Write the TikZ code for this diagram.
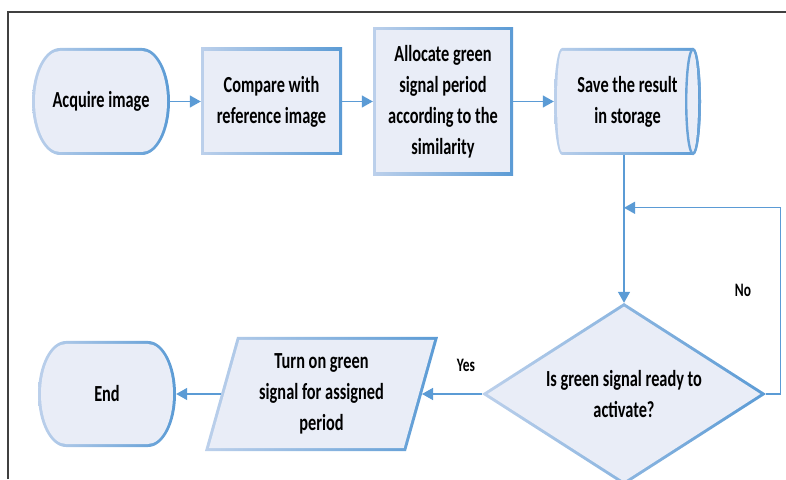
\documentclass[tikz,border=0pt]{standalone}
\usepackage{fontspec}
\setmainfont{Carlito}[FakeStretch=0.71]
\usetikzlibrary{arrows.meta,calc}
\definecolor{boxfill}{HTML}{E9EDF7}
\definecolor{edgelight}{HTML}{BCD0EB}
\definecolor{edgedark}{HTML}{5B9BD5}
\definecolor{linkblue}{HTML}{5B9BD5}
\definecolor{framegray}{HTML}{404040}

\begin{document}
\begin{tikzpicture}[x=1pt,y=1pt,
  band/.style={left color=edgelight,right color=edgedark},
  face/.style={fill=boxfill},
  txt/.style={rectangle,inner sep=0pt,align=center,
    font=\bfseries\fontsize{23}{31}\selectfont},
  holder/.style 2 args={minimum width=#1,minimum height=#2},
  tag/.style={inner sep=0pt,font=\bfseries\fontsize{19}{23}\selectfont},
  conn/.style={draw=linkblue,line width=1.4pt,
    -{Triangle[length=11pt,width=12pt]}},
  % rectangle with a shaded rim: half width, half height
  pics/rectbox/.style n args={2}{code={
    \path[band] ({-#1},{-#2}) rectangle (#1,#2);
    \path[face] ({-#1+3},{-#2+3}) rectangle ({#1-3},{#2-3});
  }},
  % rounded terminal / cylinder body: half width, half height, end radius
  pics/terminal/.style n args={3}{code={
    \path[band] ({-#1+#3},#2) -- ({#1-#3},#2)
      arc[start angle=90,end angle=-90,x radius=#3,y radius=#2]
      -- ({-#1+#3},{-#2})
      arc[start angle=270,end angle=90,x radius=#3,y radius=#2] -- cycle;
    \path[face] ({-#1+#3},{#2-3}) -- ({#1-#3},{#2-3})
      arc[start angle=90,end angle=-90,x radius={#3-3},y radius={#2-3}]
      -- ({-#1+#3},{-#2+3})
      arc[start angle=270,end angle=90,x radius={#3-3},y radius={#2-3}] -- cycle;
  }},
  % storage cylinder: half width, half height, end radius
  pics/storage/.style n args={3}{code={
    \pic {terminal={#1}{#2}{#3}};
    \draw[edgedark!85!edgelight,line width=2.4pt]
      ({#1-#3},0) ellipse[x radius={#3-1.2},y radius={#2-1.2}];
  }},
  % parallelogram: half width, half height, slant
  pics/slanted/.style n args={3}{code={
    \path[band] ({-#1+#3},#2) -- (#1,#2) -- ({#1-#3},{-#2}) -- ({-#1},{-#2}) -- cycle;
    \path[face] ({-#1+#3+2.3},{#2-3}) -- ({#1-4},{#2-3})
      -- ({#1-#3-2.3},{-#2+3}) -- ({-#1+4},{-#2+3}) -- cycle;
  }},
  % decision diamond: half width, half height
  pics/decision/.style n args={2}{code={
    \path[band] ({-#1},0) -- (0,#2) -- (#1,0) -- (0,{-#2}) -- cycle;
    \path[face] ({-#1+5.6},0) -- (0,{#2-3.6}) -- ({#1-5.6},0) -- (0,{-#2+3.6}) -- cycle;
  }},
]
\useasboundingbox (0,0) rectangle (786,479);

% page frame
\draw[framegray,line width=1.2pt] (8,0) -- (8,467) -- (786,467);

% top row
\pic at (101,377.5) {terminal={69}{53.5}{28}};
\node[txt,holder={138}{107}] (acq) at (101,377.5) {Acquire image};

\pic at (271.5,377.5) {rectbox={70.5}{53.5}};
\node[txt,holder={141}{107}] (cmp) at (271.5,377.5) {Compare with\\reference image};

\pic at (443,377.5) {rectbox={70}{74}};
\node[txt,holder={140}{148}] (alloc) at (443,377.5)
  {Allocate green\\signal period\\according to the\\similarity};

\pic at (627.5,377.5) {storage={73.5}{53.5}{8}};
\node[txt,holder={147}{107}] (save) at (627.5,377.5) {Save the result\\in storage};

% bottom row
\pic at (624,85) {decision={142}{91}};
\node[txt,holder={284}{182}] (dec) at (624,85) {Is green signal ready to\\activate?};

\pic at (321.5,85) {slanted={116.5}{57}{32}};
\node[txt,holder={233}{114}] (turn) at (321.5,85)
  {Turn on green\\signal for assigned\\period};

\pic at (107,85) {terminal={69}{53}{28}};
\node[txt,holder={138}{106}] (fin) at (107,85) {End};

% connection points on slanted sides and the loop merge
\coordinate (turnin) at ($(turn.center)+(100.5,0)$);
\coordinate (turnout) at ($(turn.center)-(100.5,0)$);
\coordinate (merge) at ($(dec.north)+(0,95)$);

% connectors
\draw[conn] (acq.east) -- (cmp.west);
\draw[conn] (cmp.east) -- (alloc.west);
\draw[conn] (alloc.east) -- (save.west);
\draw[conn] (save.south -| dec.north) -- (dec.north);
\draw[conn] (dec.east) -- ++(14,0) |- (merge);
\draw[conn] (dec.west) -- (turnin);
\draw[conn] (turnout) -- (fin.east);

% branch labels
\node[tag] (yes) at (466,114) {Yes};
\node[tag] (no) at (743,189) {No};
\end{tikzpicture}
\end{document}
